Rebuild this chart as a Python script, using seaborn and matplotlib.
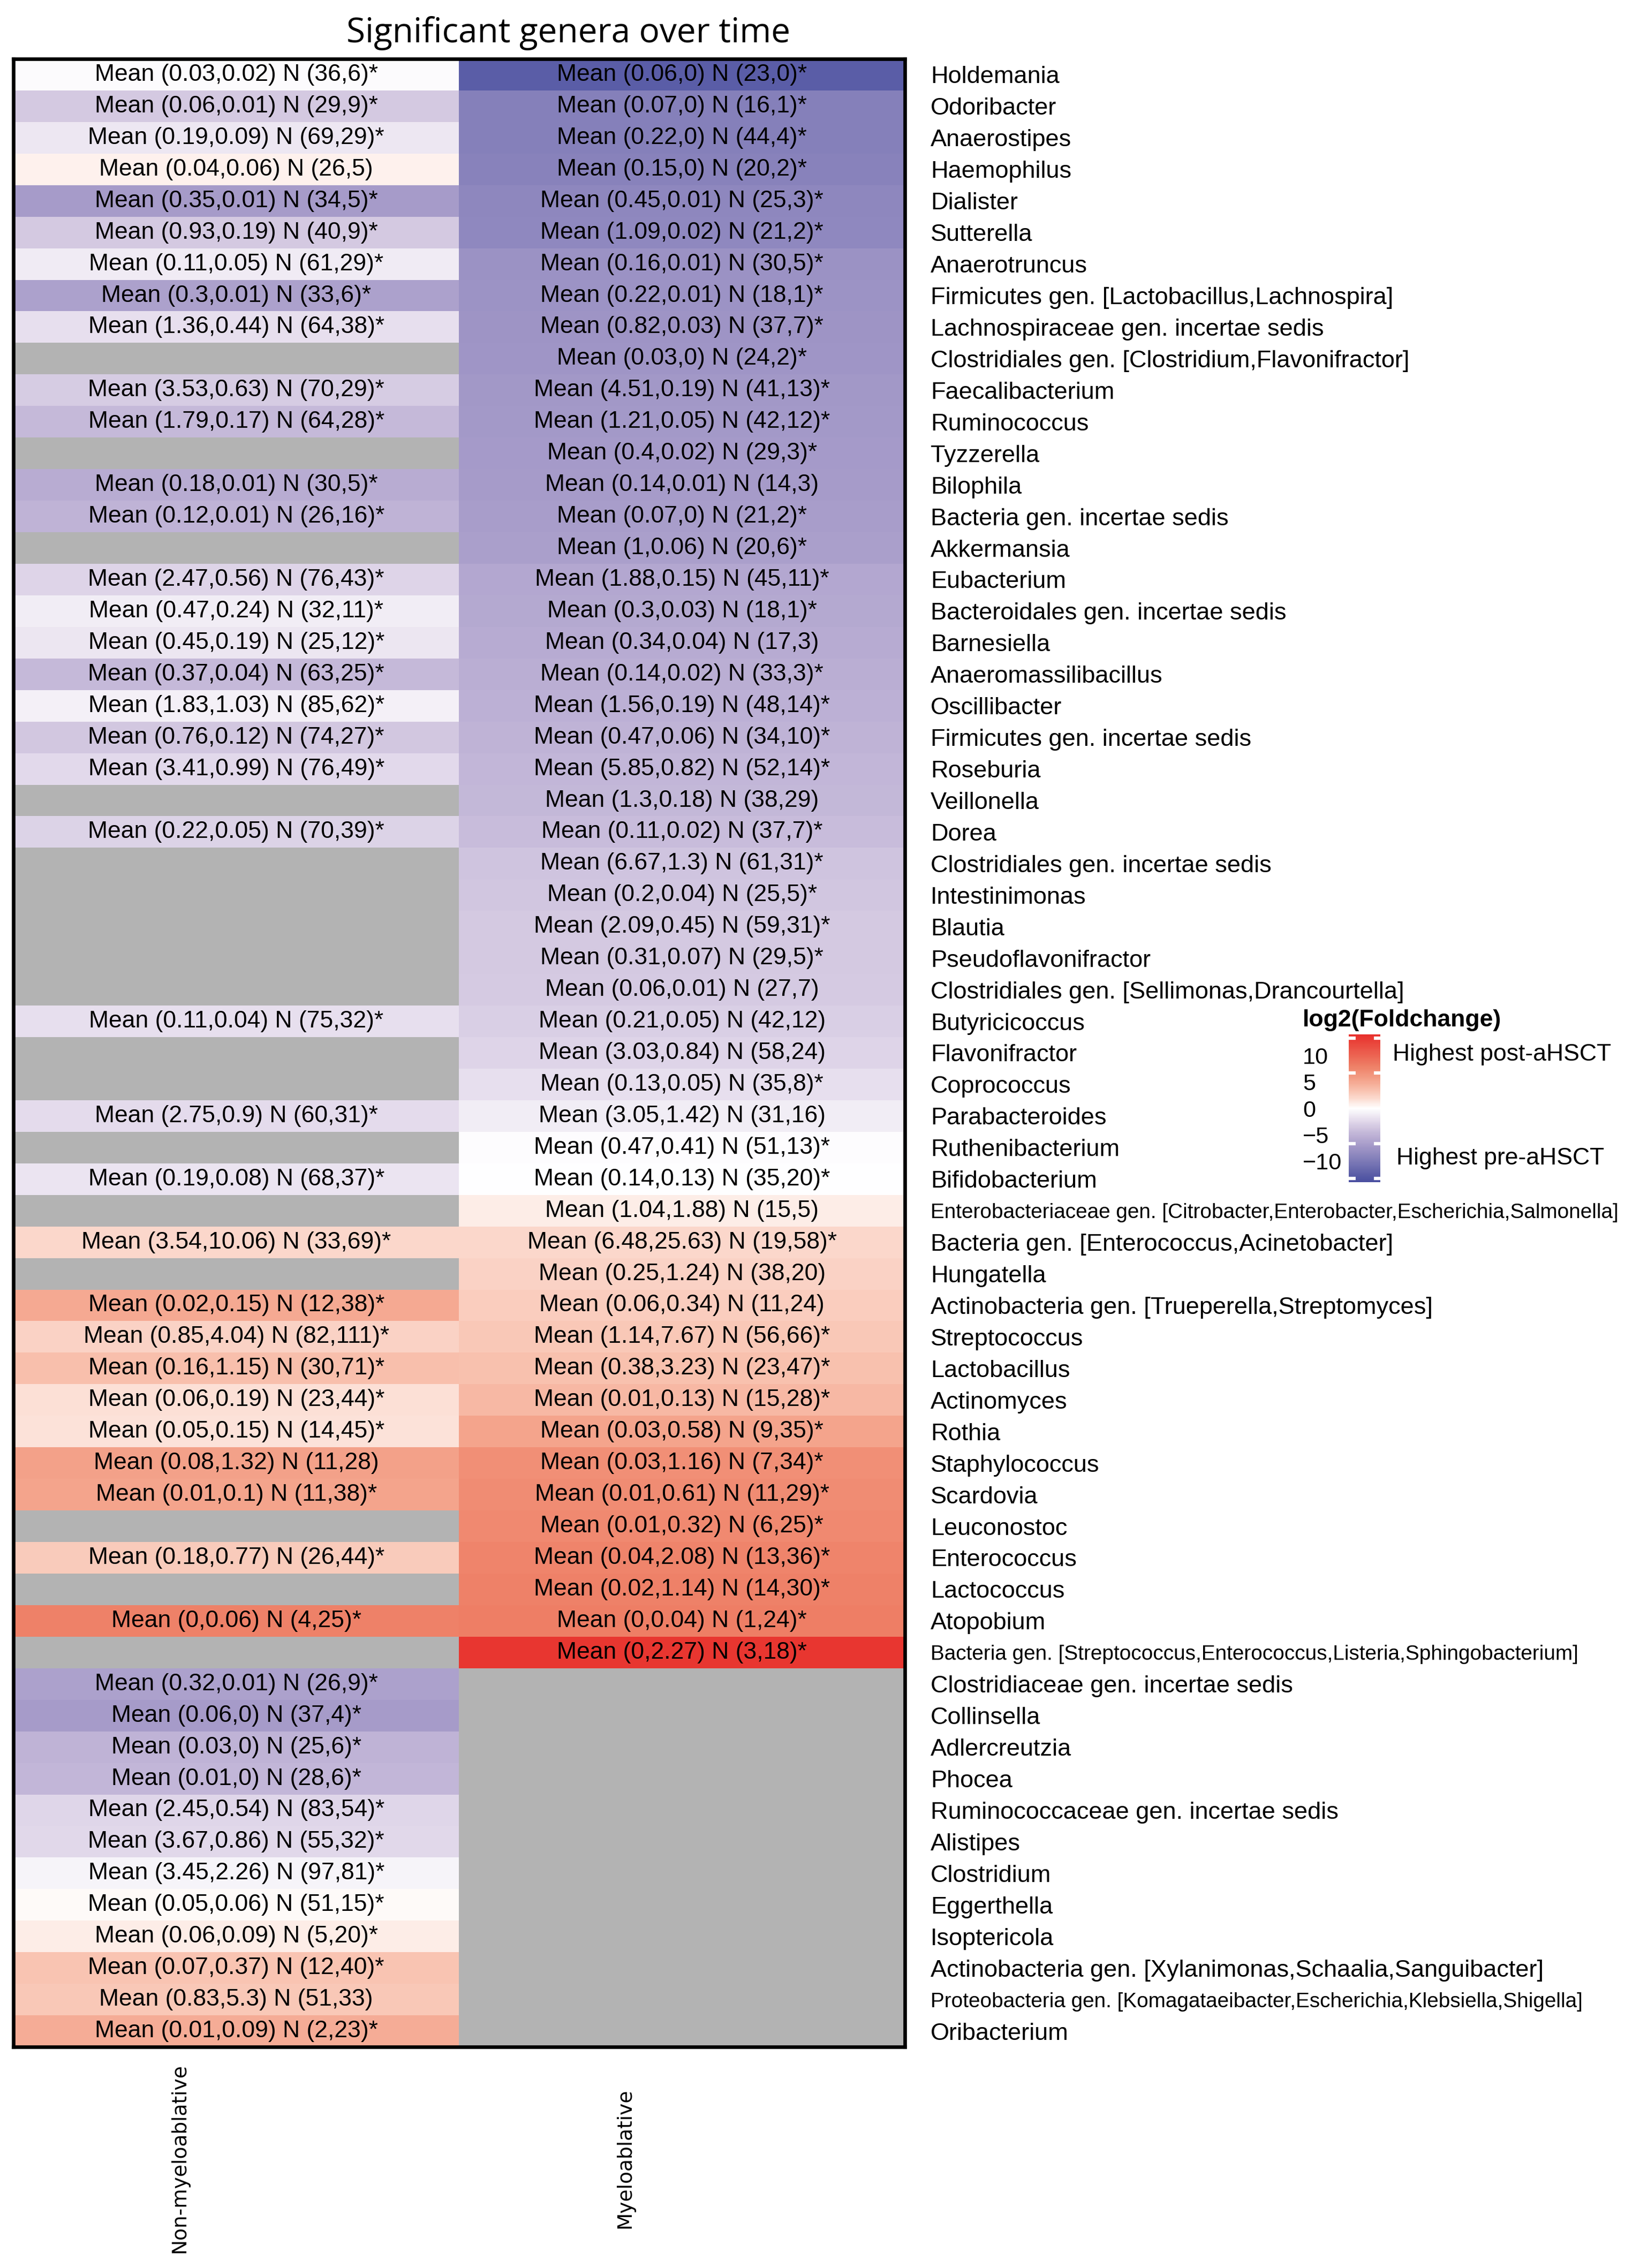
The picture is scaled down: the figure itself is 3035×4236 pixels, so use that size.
import numpy as np
import pandas as pd
import matplotlib
matplotlib.use('Agg')
import matplotlib.pyplot as plt
import matplotlib.transforms as mtransforms
from matplotlib.colors import LinearSegmentedColormap
import seaborn as sns

nan = np.nan

# rows of the heatmap (top to bottom)
genera = ['Holdemania', 'Odoribacter', 'Anaerostipes', 'Haemophilus', 'Dialister',
          'Sutterella', 'Anaerotruncus', 'Firmicutes gen. [Lactobacillus,Lachnospira]',
          'Lachnospiraceae gen. incertae sedis', 'Clostridiales gen. [Clostridium,Flavonifractor]',
          'Faecalibacterium', 'Ruminococcus', 'Tyzzerella', 'Bilophila',
          'Bacteria gen. incertae sedis', 'Akkermansia', 'Eubacterium',
          'Bacteroidales gen. incertae sedis', 'Barnesiella', 'Anaeromassilibacillus',
          'Oscillibacter', 'Firmicutes gen. incertae sedis', 'Roseburia', 'Veillonella',
          'Dorea', 'Clostridiales gen. incertae sedis', 'Intestinimonas', 'Blautia',
          'Pseudoflavonifractor', 'Clostridiales gen. [Sellimonas,Drancourtella]',
          'Butyricicoccus', 'Flavonifractor', 'Coprococcus', 'Parabacteroides',
          'Ruthenibacterium', 'Bifidobacterium',
          'Enterobacteriaceae gen. [Citrobacter,Enterobacter,Escherichia,Salmonella]',
          'Bacteria gen. [Enterococcus,Acinetobacter]', 'Hungatella',
          'Actinobacteria gen. [Trueperella,Streptomyces]', 'Streptococcus',
          'Lactobacillus', 'Actinomyces', 'Rothia', 'Staphylococcus', 'Scardovia',
          'Leuconostoc', 'Enterococcus', 'Lactococcus', 'Atopobium',
          'Bacteria gen. [Streptococcus,Enterococcus,Listeria,Sphingobacterium]',
          'Clostridiaceae gen. incertae sedis', 'Collinsella', 'Adlercreutzia', 'Phocea',
          'Ruminococcaceae gen. incertae sedis', 'Alistipes', 'Clostridium', 'Eggerthella',
          'Isoptericola', 'Actinobacteria gen. [Xylanimonas,Schaalia,Sanguibacter]',
          'Proteobacteria gen. [Komagataeibacter,Escherichia,Klebsiella,Shigella]',
          'Oribacterium']

conditions = ['Non-myeloablative', 'Myeloablative']

# log2(Foldchange)
nonmyelo_fc = [-0.3, -3.5, -1.5, 0.7, -7.0, -3.5, -1.3, -6.5, -2.0, nan,
               -3.2, -4.5, nan, -5.5, -5.0, nan, -2.7, -1.2, -1.6, -4.5,
               -0.9, -3.6, -2.3, nan, -2.8, nan, nan, nan, nan, nan,
               -2.0, nan, nan, -2.2, nan, -1.7, nan, 2.0, nan, 5.0,
               2.3, 3.6, 1.6, 1.5, 5.5, 5.3, nan, 2.8, nan, 7.8,
               nan, -6.5, -7.0, -5.0, -4.8, -2.6, -2.5, -0.7, 0.3, 0.9,
               3.2, 3.0, 4.8]

myelo_fc = [-12.5, -9.5, -9.5, -9.2, -8.8, -8.7, -7.8, -7.7, -7.6, -7.5,
            -7.3, -7.2, -7.1, -7.0, -6.8, -6.6, -6.0, -5.8, -5.6, -5.4,
            -5.2, -5.0, -4.8, -4.6, -4.3, -3.8, -3.7, -3.5, -3.4, -3.3,
            -3.0, -2.7, -2.0, -1.1, -0.2, -0.1, 0.9, 2.0, 2.4, 2.7,
            3.0, 3.4, 4.0, 5.3, 6.8, 7.0, 7.3, 7.6, 7.8, 8.0,
            13.5, nan, nan, nan, nan, nan, nan, nan, nan, nan,
            nan, nan, nan]

nonmyelo_text = ['Mean (0.03,0.02) N (36,6)*', 'Mean (0.06,0.01) N (29,9)*',
                 'Mean (0.19,0.09) N (69,29)*', 'Mean (0.04,0.06) N (26,5)',
                 'Mean (0.35,0.01) N (34,5)*', 'Mean (0.93,0.19) N (40,9)*',
                 'Mean (0.11,0.05) N (61,29)*', 'Mean (0.3,0.01) N (33,6)*',
                 'Mean (1.36,0.44) N (64,38)*', '',
                 'Mean (3.53,0.63) N (70,29)*', 'Mean (1.79,0.17) N (64,28)*', '',
                 'Mean (0.18,0.01) N (30,5)*', 'Mean (0.12,0.01) N (26,16)*', '',
                 'Mean (2.47,0.56) N (76,43)*', 'Mean (0.47,0.24) N (32,11)*',
                 'Mean (0.45,0.19) N (25,12)*', 'Mean (0.37,0.04) N (63,25)*',
                 'Mean (1.83,1.03) N (85,62)*', 'Mean (0.76,0.12) N (74,27)*',
                 'Mean (3.41,0.99) N (76,49)*', '', 'Mean (0.22,0.05) N (70,39)*',
                 '', '', '', '', '',
                 'Mean (0.11,0.04) N (75,32)*', '', '', 'Mean (2.75,0.9) N (60,31)*', '',
                 'Mean (0.19,0.08) N (68,37)*', '', 'Mean (3.54,10.06) N (33,69)*', '',
                 'Mean (0.02,0.15) N (12,38)*', 'Mean (0.85,4.04) N (82,111)*',
                 'Mean (0.16,1.15) N (30,71)*', 'Mean (0.06,0.19) N (23,44)*',
                 'Mean (0.05,0.15) N (14,45)*', 'Mean (0.08,1.32) N (11,28)',
                 'Mean (0.01,0.1) N (11,38)*', '', 'Mean (0.18,0.77) N (26,44)*', '',
                 'Mean (0,0.06) N (4,25)*', '',
                 'Mean (0.32,0.01) N (26,9)*', 'Mean (0.06,0) N (37,4)*',
                 'Mean (0.03,0) N (25,6)*', 'Mean (0.01,0) N (28,6)*',
                 'Mean (2.45,0.54) N (83,54)*', 'Mean (3.67,0.86) N (55,32)*',
                 'Mean (3.45,2.26) N (97,81)*', 'Mean (0.05,0.06) N (51,15)*',
                 'Mean (0.06,0.09) N (5,20)*', 'Mean (0.07,0.37) N (12,40)*',
                 'Mean (0.83,5.3) N (51,33)', 'Mean (0.01,0.09) N (2,23)*']

myelo_text = ['Mean (0.06,0) N (23,0)*', 'Mean (0.07,0) N (16,1)*',
              'Mean (0.22,0) N (44,4)*', 'Mean (0.15,0) N (20,2)*',
              'Mean (0.45,0.01) N (25,3)*', 'Mean (1.09,0.02) N (21,2)*',
              'Mean (0.16,0.01) N (30,5)*', 'Mean (0.22,0.01) N (18,1)*',
              'Mean (0.82,0.03) N (37,7)*', 'Mean (0.03,0) N (24,2)*',
              'Mean (4.51,0.19) N (41,13)*', 'Mean (1.21,0.05) N (42,12)*',
              'Mean (0.4,0.02) N (29,3)*', 'Mean (0.14,0.01) N (14,3)',
              'Mean (0.07,0) N (21,2)*', 'Mean (1,0.06) N (20,6)*',
              'Mean (1.88,0.15) N (45,11)*', 'Mean (0.3,0.03) N (18,1)*',
              'Mean (0.34,0.04) N (17,3)', 'Mean (0.14,0.02) N (33,3)*',
              'Mean (1.56,0.19) N (48,14)*', 'Mean (0.47,0.06) N (34,10)*',
              'Mean (5.85,0.82) N (52,14)*', 'Mean (1.3,0.18) N (38,29)',
              'Mean (0.11,0.02) N (37,7)*', 'Mean (6.67,1.3) N (61,31)*',
              'Mean (0.2,0.04) N (25,5)*', 'Mean (2.09,0.45) N (59,31)*',
              'Mean (0.31,0.07) N (29,5)*', 'Mean (0.06,0.01) N (27,7)',
              'Mean (0.21,0.05) N (42,12)', 'Mean (3.03,0.84) N (58,24)',
              'Mean (0.13,0.05) N (35,8)*', 'Mean (3.05,1.42) N (31,16)',
              'Mean (0.47,0.41) N (51,13)*', 'Mean (0.14,0.13) N (35,20)*',
              'Mean (1.04,1.88) N (15,5)', 'Mean (6.48,25.63) N (19,58)*',
              'Mean (0.25,1.24) N (38,20)', 'Mean (0.06,0.34) N (11,24)',
              'Mean (1.14,7.67) N (56,66)*', 'Mean (0.38,3.23) N (23,47)*',
              'Mean (0.01,0.13) N (15,28)*', 'Mean (0.03,0.58) N (9,35)*',
              'Mean (0.03,1.16) N (7,34)*', 'Mean (0.01,0.61) N (11,29)*',
              'Mean (0.01,0.32) N (6,25)*', 'Mean (0.04,2.08) N (13,36)*',
              'Mean (0.02,1.14) N (14,30)*', 'Mean (0,0.04) N (1,24)*',
              'Mean (0,2.27) N (3,18)*',
              '', '', '', '', '', '', '', '', '', '', '', '']

plt.rcParams['font.family'] = ['Liberation Sans', 'DejaVu Sans']

W, H = 3035, 4236
fig = plt.figure(figsize=(W / 300, H / 300), dpi=300)
fig.set_facecolor('white')

# blue - white - red ramp (purplish on the blue side, like the original)
vlim = 14
stops = [(-14, '#4A4FA0'), (-12.5, '#5B5EA7'), (-9.5, '#8580BA'), (-7, '#A69BC9'),
         (-5, '#BFB3D6'), (-3.5, '#D3C8E1'), (-2, '#E7DFEE'), (0, '#FFFFFF'),
         (2, '#FBD8CC'), (3.5, '#F8C0AD'), (5.3, '#F4A48C'), (8, '#EE7F66'),
         (14, '#E8302C')]
cmap = LinearSegmentedColormap.from_list('fc', [((v + vlim) / (2 * vlim), c) for v, c in stops])

ax = fig.add_axes([25 / W, 1 - 3823 / H, (1690 - 25) / W, 3713 / H])
cax = fig.add_axes([2519 / W, 1 - 2208 / H, 59 / W, 276 / H])

df = pd.DataFrame({conditions[0]: nonmyelo_fc, conditions[1]: myelo_fc}, index=genera)
annot = np.array([nonmyelo_text, myelo_text]).T

sns.heatmap(df, ax=ax, cmap=cmap, vmin=-vlim, vmax=vlim, annot=annot, fmt='',
            annot_kws=dict(fontsize=10.7, color='black'),
            xticklabels=conditions, yticklabels=genera,
            cbar_ax=cax, cbar_kws=dict(ticks=[-10, -5, 0, 5, 10]))

ax.set_facecolor('#B3B3B3')
for s in ax.spines.values():
    s.set_visible(True)
    s.set_linewidth(1.6)
    s.set_color('black')

# row labels on the right
ax.yaxis.tick_right()
ax.set_yticks(np.arange(len(genera)) + 0.5)
ax.set_yticklabels(genera, rotation=0, ha='left', fontsize=10.85)
ax.tick_params(axis='y', length=0, pad=11.5)
long_rows = ('Enterobacteriaceae gen.', 'Bacteria gen. [Streptococcus', 'Proteobacteria gen.')
for lbl in ax.get_yticklabels():
    if lbl.get_text().startswith(long_rows):
        lbl.set_fontsize(9.3)

# column labels at the bottom, rotated
ax.set_xticks([0.5, 1.5])
ax.set_xticklabels(conditions, rotation=90, va='center', ha='center',
                   fontsize=9, family='DejaVu Sans')
ax.tick_params(axis='x', length=0, pad=50)
shift = mtransforms.ScaledTranslation(-106 / 300, 0, fig.dpi_scale_trans)
for lbl in ax.get_xticklabels():
    lbl.set_transform(lbl.get_transform() + shift)
ax.set_xlabel('')
ax.set_ylabel('')

# colour legend
cbar = ax.collections[0].colorbar
cbar.outline.set_visible(False)
cax.yaxis.set_ticks_position('left')
cax.yaxis.set_label_position('left')
cax.tick_params(which='major', length=0, pad=20.6, labelsize=10.4)
for lbl in cax.get_yticklabels():
    lbl.set_ha('left')
cax.set_yticks([-13.3, -6.7, 6.7, 13.3], minor=True)
cax.tick_params(which='minor', left=True, right=True, direction='in',
                color='white', length=3, width=1.5)

fig.text(2433 / W, 1 - 1905 / H, 'log2(Foldchange)', fontsize=10.7,
         fontweight='bold', ha='left', va='center')
fig.text(2601 / W, 1 - 1970 / H, 'Highest post-aHSCT', fontsize=10.7, ha='left', va='center')
fig.text(2608 / W, 1 - 2163 / H, 'Highest pre-aHSCT', fontsize=10.7, ha='left', va='center')

fig.text(1062 / W, 1 - 62 / H, 'Significant genera over time', ha='center', va='center',
         fontsize=15.3, family='Open Sans')

fig.savefig('out.png', dpi=300)
